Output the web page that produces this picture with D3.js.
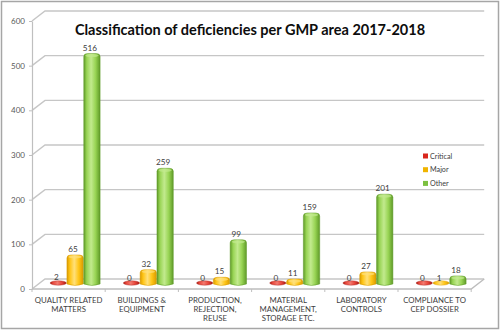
<!DOCTYPE html>
<html><head><meta charset="utf-8">
<script src="https://cdn.jsdelivr.net/npm/d3@7"></script>
<style>body{margin:0;background:#fff}svg{display:block}text{font-family:Lato,"Open Sans",sans-serif}</style>
</head><body>
<svg id="c" width="500" height="330"></svg>
<script>
const categories = [
  ["QUALITY RELATED","MATTERS"],
  ["BUILDINGS &","EQUIPMENT"],
  ["PRODUCTION,","REJECTION,","REUSE"],
  ["MATERIAL","MANAGEMENT,","STORAGE ETC."],
  ["LABORATORY","CONTROLS"],
  ["COMPLIANCE TO","CEP DOSSIER"]
];
const seriesNames = ["Critical","Major","Other"];
const critical = [2,0,0,0,0,0];
const major = [65,32,15,11,27,1];
const other = [516,259,99,159,201,18];
const yTicks = [0,100,200,300,400,500,600];
const title = "Classification of deficiencies per GMP area 2017-2018";

const seriesValues = [critical, major, other];
const colors = {
  Critical:{mid:"#e8453a",dark:"#a3160f",light:"#f27a6f",legend:"#d9261c"},
  Major:{mid:"#ffc516",dark:"#d99a00",light:"#ffe07a",legend:"#f0b400"},
  Other:{mid:"#98d454",dark:"#5f9a28",light:"#c2ea8e",legend:"#7cc040"}
};

const svg = d3.select("#c");
const defs = svg.append("defs");
seriesNames.forEach(s=>{
  const c = colors[s];
  const g = defs.append("linearGradient").attr("id","g"+s).attr("x1","0").attr("x2","1").attr("y1","0").attr("y2","0");
  g.append("stop").attr("offset","0%").attr("stop-color",c.dark);
  g.append("stop").attr("offset","18%").attr("stop-color",c.mid);
  g.append("stop").attr("offset","45%").attr("stop-color",c.light);
  g.append("stop").attr("offset","72%").attr("stop-color",c.mid);
  g.append("stop").attr("offset","100%").attr("stop-color",c.dark);
});

// outer border
svg.append("rect").attr("x",1.5).attr("y",1.5).attr("width",497).attr("height",327)
  .attr("fill","#fff").attr("stroke","#a6a6a6").attr("stroke-width",1.5);

const x0 = 32, x1 = 471.2;
const depthX = 13, depthY = -10;
const y = d3.scaleLinear().domain([0,600]).range([289,21]);
const x = d3.scaleBand().domain(d3.range(categories.length)).range([x0,x1]).padding(0);
const inner = d3.scaleBand().domain(seriesNames).range([11.6, 61.6]).paddingInner(0.03);

// gridlines (back wall + left wall diagonal)
const grid = svg.append("g").attr("stroke","#c6c6c6").attr("stroke-width",1.4).attr("fill","none");
yTicks.forEach(t=>{
  const yy = y(t);
  grid.append("path").attr("d",`M${x0},${yy}L${x0+depthX},${yy+depthY}L${x1+depthX},${yy+depthY}`);
});
// floor
grid.append("path").attr("d",`M${x0},${y(0)}L${x1},${y(0)}L${x1+depthX},${y(0)+depthY}`).attr("stroke","#bdbdbd");

// y axis
const yAxis = d3.axisLeft(y).tickValues(yTicks).tickSize(3).tickSizeOuter(0).tickPadding(4);
const ya = svg.append("g").attr("transform",`translate(${x0},0)`).call(yAxis);
ya.select(".domain").attr("stroke","#bfbfbf").attr("stroke-width",1.2);
ya.selectAll(".tick line").attr("stroke","#bfbfbf");
ya.selectAll(".tick text").attr("fill","#595959").attr("font-size",8).attr("font-family","Lato,sans-serif");

// category boundary ticks
const xt = svg.append("g").attr("stroke","#bfbfbf");
d3.range(categories.length+1).forEach(i=>{
  const xx = x0 + i*x.bandwidth();
  xt.append("line").attr("x1",xx).attr("x2",xx).attr("y1",y(0)).attr("y2",y(0)+3);
});

// category labels
const cl = svg.append("g").attr("fill","#404040").attr("font-size",7.8).attr("text-anchor","middle");
categories.forEach((lines,i)=>{
  const t = cl.append("text").attr("x",x(i)+x.bandwidth()/2).attr("y",303);
  lines.forEach((ln,j)=>t.append("tspan").attr("x",x(i)+x.bandwidth()/2).attr("dy",j===0?0:9).text(ln));
});

// bars
const bars = svg.append("g");
const dx = depthX/2, dy = depthY/2;
categories.forEach((_,i)=>{
  seriesNames.forEach((s,k)=>{
    const v = seriesValues[k][i];
    const bx = x(i) + inner(s) + dx;
    const w = inner.bandwidth();
    const base = y(0) + dy;
    const top = y(v) + dy;
    const c = colors[s];
    if (v <= 2) {
      bars.append("ellipse").attr("cx",bx+w/2).attr("cy",base-1).attr("rx",w/2).attr("ry",2.2)
        .attr("fill",`url(#g${s})`).attr("stroke",c.dark).attr("stroke-width",0.4);
    } else {
      bars.append("path")
        .attr("d",`M${bx},${base}L${bx},${top+3}Q${bx},${top} ${bx+4},${top}L${bx+w-4},${top}Q${bx+w},${top} ${bx+w},${top+3}L${bx+w},${base}Q${bx+w/2},${base+3} ${bx},${base}Z`)
        .attr("fill",`url(#g${s})`).attr("stroke",c.dark).attr("stroke-width",0.5);
      bars.append("ellipse").attr("cx",bx+w/2).attr("cy",top+2).attr("rx",w/2-1.5).attr("ry",1.6)
        .attr("fill",c.light).attr("opacity",0.7);
    }
    svg.append("text").attr("x",bx+w/2-2).attr("y",top-3)
      .attr("text-anchor","middle").attr("font-size",8.2).attr("fill","#404040").text(v);
  });
});

// legend
const lg = svg.append("g").attr("font-size",7.2).attr("fill","#404040");
seriesNames.forEach((s,k)=>{
  const yy = 156 + k*13.7;
  lg.append("rect").attr("x",423).attr("y",yy-2.5).attr("width",5).attr("height",5).attr("fill",colors[s].legend);
  lg.append("text").attr("x",430).attr("y",yy+2.5).text(s);
});

// title
svg.append("text").attr("x",250).attr("y",35).attr("text-anchor","middle")
  .attr("font-size",14.5).attr("font-weight","bold").attr("fill","#0d0d0d").text(title);
</script>
</body></html>
